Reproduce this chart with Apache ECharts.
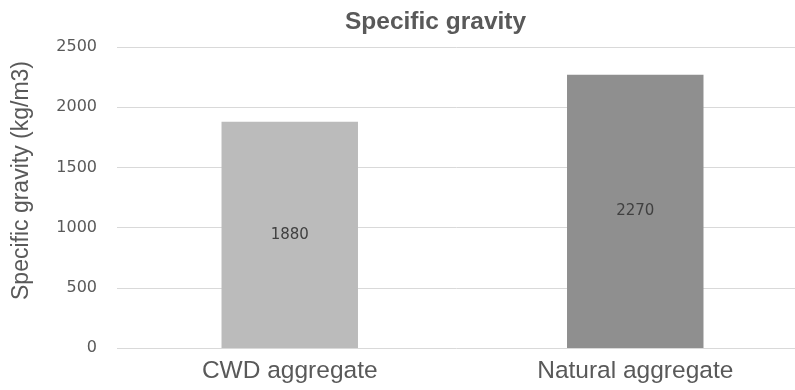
<!DOCTYPE html>
<html>
<head>
<meta charset="utf-8">
<script src="https://cdn.jsdelivr.net/npm/echarts@6/dist/echarts.min.js"></script>
<style>
  html, body { margin: 0; padding: 0; background: #fff; }
  #chart { width: 795px; height: 390px; }
</style>
</head>
<body>
<div id="chart"></div>
<script>
// Specific gravity of aggregates (kg/m3)
const categories = ['CWD aggregate', 'Natural aggregate'];
const gravityValues = [1880, 2270];
const barColors = ['#bbbbbb', '#8f8f8f'];
const yTicks = [0, 500, 1000, 1500, 2000, 2500];

const chart = echarts.init(document.getElementById('chart'), null, { renderer: 'canvas' });

chart.setOption({
  animation: false,
  backgroundColor: '#ffffff',
  title: {
    text: 'Specific gravity',
    left: 340,
    top: 5,
    textStyle: { fontFamily: 'Liberation Sans', fontSize: 24.5, fontWeight: 'bold', color: '#595959' }
  },
  grid: { left: 117, width: 691, top: 47, bottom: 42, outerBoundsMode: 'none', containLabel: false },
  xAxis: {
    type: 'category',
    data: categories,
    axisLine: { show: false },
    axisTick: { show: false },
    axisLabel: { fontFamily: 'Liberation Sans', fontSize: 24.5, color: '#595959', margin: 11 }
  },
  yAxis: {
    type: 'value',
    min: yTicks[0],
    max: yTicks[yTicks.length - 1],
    interval: yTicks[1] - yTicks[0],
    name: 'Specific gravity (kg/m3)',
    nameLocation: 'middle',
    nameGap: 84,
    nameTextStyle: { fontFamily: 'Liberation Sans', fontSize: 23, color: '#595959', padding: [0, 0, 0, 34] },
    axisLine: { show: false },
    axisTick: { show: false },
    axisLabel: {
      fontFamily: 'DejaVu Sans', fontSize: 16, color: '#595959', margin: 20,
      formatter: (v) => String(v)
    },
    splitLine: { lineStyle: { color: '#d9d9d9', width: 1 } }
  },
  series: [{
    type: 'bar',
    barWidth: '39.5%',
    data: gravityValues.map((v, i) => ({ value: v, itemStyle: { color: barColors[i] } })),
    label: {
      show: true,
      position: 'inside',
      fontFamily: 'DejaVu Sans',
      fontSize: 15,
      color: '#404040'
    }
  }]
});
</script>
</body>
</html>
